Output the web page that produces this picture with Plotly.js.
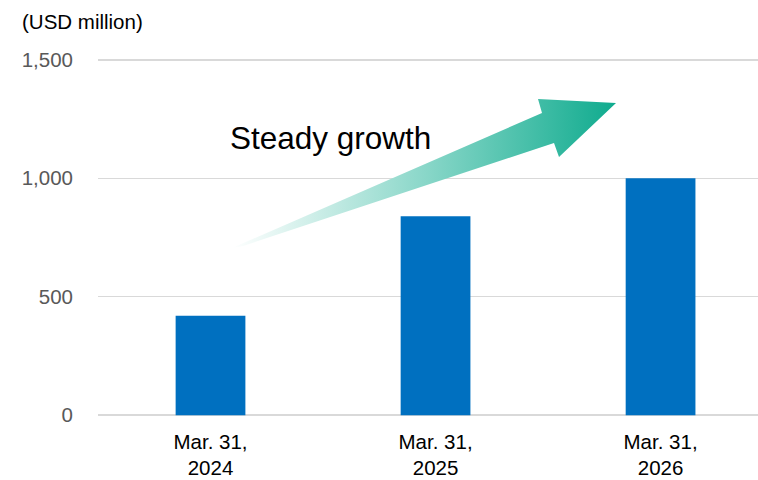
<!DOCTYPE html>
<html>
<head>
<meta charset="utf-8">
<script src="https://cdn.plot.ly/plotly-3.0.1.min.js"></script>
<style>html,body{margin:0;padding:0;background:#fff;}#chart{width:758px;height:480px;}</style>
</head>
<body>
<div id="chart"></div>
<script>
// Data
const categories = ["Mar. 31,<br>2024", "Mar. 31,<br>2025", "Mar. 31,<br>2026"];
const values = [420, 840, 1000];
const yTickVals = [0, 500, 1000, 1500];
const yTickText = ["0", "500", "1,000", "1,500"];
const unitLabel = "(USD million)";
const arrowLabel = "Steady growth";
// Decorative arrow outline (overlay axes in pixel-like units)
const arrowX = [232, 542, 538, 616, 559, 554, 243, 232];
const arrowY = [248, 113, 99, 103, 157, 143, 246, 248];

const barTrace = {
  type: "bar",
  x: categories,
  y: values,
  marker: { color: "#0070C0" },
  width: 0.31,
  hoverinfo: "skip"
};

const arrowTrace = {
  type: "scatter",
  mode: "lines",
  x: arrowX,
  y: arrowY,
  xaxis: "x2",
  yaxis: "y2",
  fill: "toself",
  line: { width: 0, color: "rgba(0,0,0,0)" },
  fillgradient: {
    type: "horizontal",
    colorscale: [[0, "rgba(255,255,255,1)"], [0.5, "#8ad7c9"], [1, "#0fab8e"]]
  },
  hoverinfo: "skip"
};

const layout = {
  width: 758,
  height: 480,
  margin: { l: 98, r: 0, t: 57, b: 62 },
  paper_bgcolor: "#ffffff",
  plot_bgcolor: "#ffffff",
  showlegend: false,
  font: { family: "Arial, 'Liberation Sans', sans-serif" },
  xaxis: {
    type: "category",
    range: [-0.5, 2.433],
    showgrid: false,
    zeroline: false,
    showline: false,
    ticks: "",
    tickfont: { size: 20.5, color: "#000000" },
    ticklabelstandoff: 9,
    fixedrange: true
  },
  yaxis: {
    range: [-12, 1512],
    tickvals: yTickVals,
    ticktext: yTickText,
    showgrid: true,
    gridcolor: "#d9d9d9",
    gridwidth: 1.5,
    zeroline: false,
    showline: false,
    ticks: "",
    tickfont: { size: 20.5, color: "#595959" },
    ticklabelstandoff: 24,
    fixedrange: true
  },
  xaxis2: { overlaying: "x", range: [98, 758], visible: false, fixedrange: true },
  yaxis2: { overlaying: "y", range: [418, 57], visible: false, fixedrange: true },
  annotations: [
    {
      text: unitLabel, xref: "paper", yref: "paper",
      x: -0.118, y: 1.0, yshift: 36, xanchor: "left", yanchor: "middle",
      showarrow: false, font: { size: 20.5, color: "#000000" }
    },
    {
      text: arrowLabel, xref: "x2", yref: "y2",
      x: 228, y: 138, xanchor: "left", yanchor: "middle",
      showarrow: false, font: { size: 31.5, color: "#000000" }
    }
  ]
};

Plotly.newPlot("chart", [arrowTrace, barTrace], layout, { displayModeBar: false, staticPlot: true });
</script>
</body>
</html>
